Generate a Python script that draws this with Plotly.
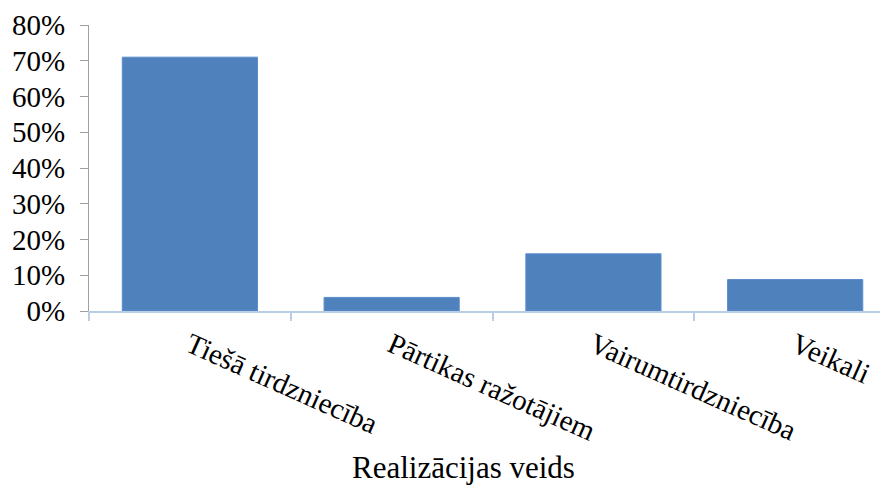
import plotly.graph_objects as go

categories = ["Tiešā tirdzniecība", "Pārtikas ražotājiem", "Vairumtirdzniecība", "Veikali"]
values = [0.71, 0.038, 0.16, 0.088]
y_ticks = [0, 0.1, 0.2, 0.3, 0.4, 0.5, 0.6, 0.7, 0.8]
x_title = "Realizācijas veids"

font_family = "Liberation Serif, Times New Roman, serif"

fig = go.Figure(go.Bar(
    x=list(range(len(categories))), y=values,
    marker=dict(color="#4f81bd", line=dict(color="#5b8ccc", width=1)),
    width=0.67,
))

W, H = 880, 478
fig.update_layout(
    width=W, height=H,
    margin=dict(l=81, r=0, t=17, b=175),
    plot_bgcolor="white", paper_bgcolor="white",
    font=dict(family=font_family, size=30, color="#000000"),
    showlegend=False,
)
fig.update_xaxes(
    tickmode="array", tickvals=list(range(len(categories))), ticktext=categories,
    range=[-0.5, 3.46], tickangle=24,
    showline=True, linecolor="#b9cde5", linewidth=2,
    ticks="", showgrid=False, zeroline=False,
    tickfont=dict(size=29), ticklabelstandoff=4,
    automargin=False,
)
fig.update_xaxes(minor=dict(tickvals=[-0.5, 0.5, 1.5, 2.5, 3.5], ticks="outside", ticklen=8,
                            tickcolor="#b9cde5", tickwidth=2))
fig.update_yaxes(
    range=[0, 0.8], tickvals=y_ticks, tickformat=".0%",
    showline=True, linecolor="#a0a0a0", linewidth=1,
    ticks="outside", ticklen=8, tickcolor="#a0a0a0",
    showgrid=False, zeroline=False, automargin=False,
    tickfont=dict(size=29), ticklabelstandoff=9,
)
fig.add_annotation(
    text=x_title, xref="paper", yref="paper",
    x=(463 - 8 - 81) / (W - 81), y=-(467 - 8 - (H - 175)) / (H - 175 - 17),
    xanchor="center", yanchor="middle", showarrow=False,
    font=dict(size=31),
)

fig.write_html("out.html")
